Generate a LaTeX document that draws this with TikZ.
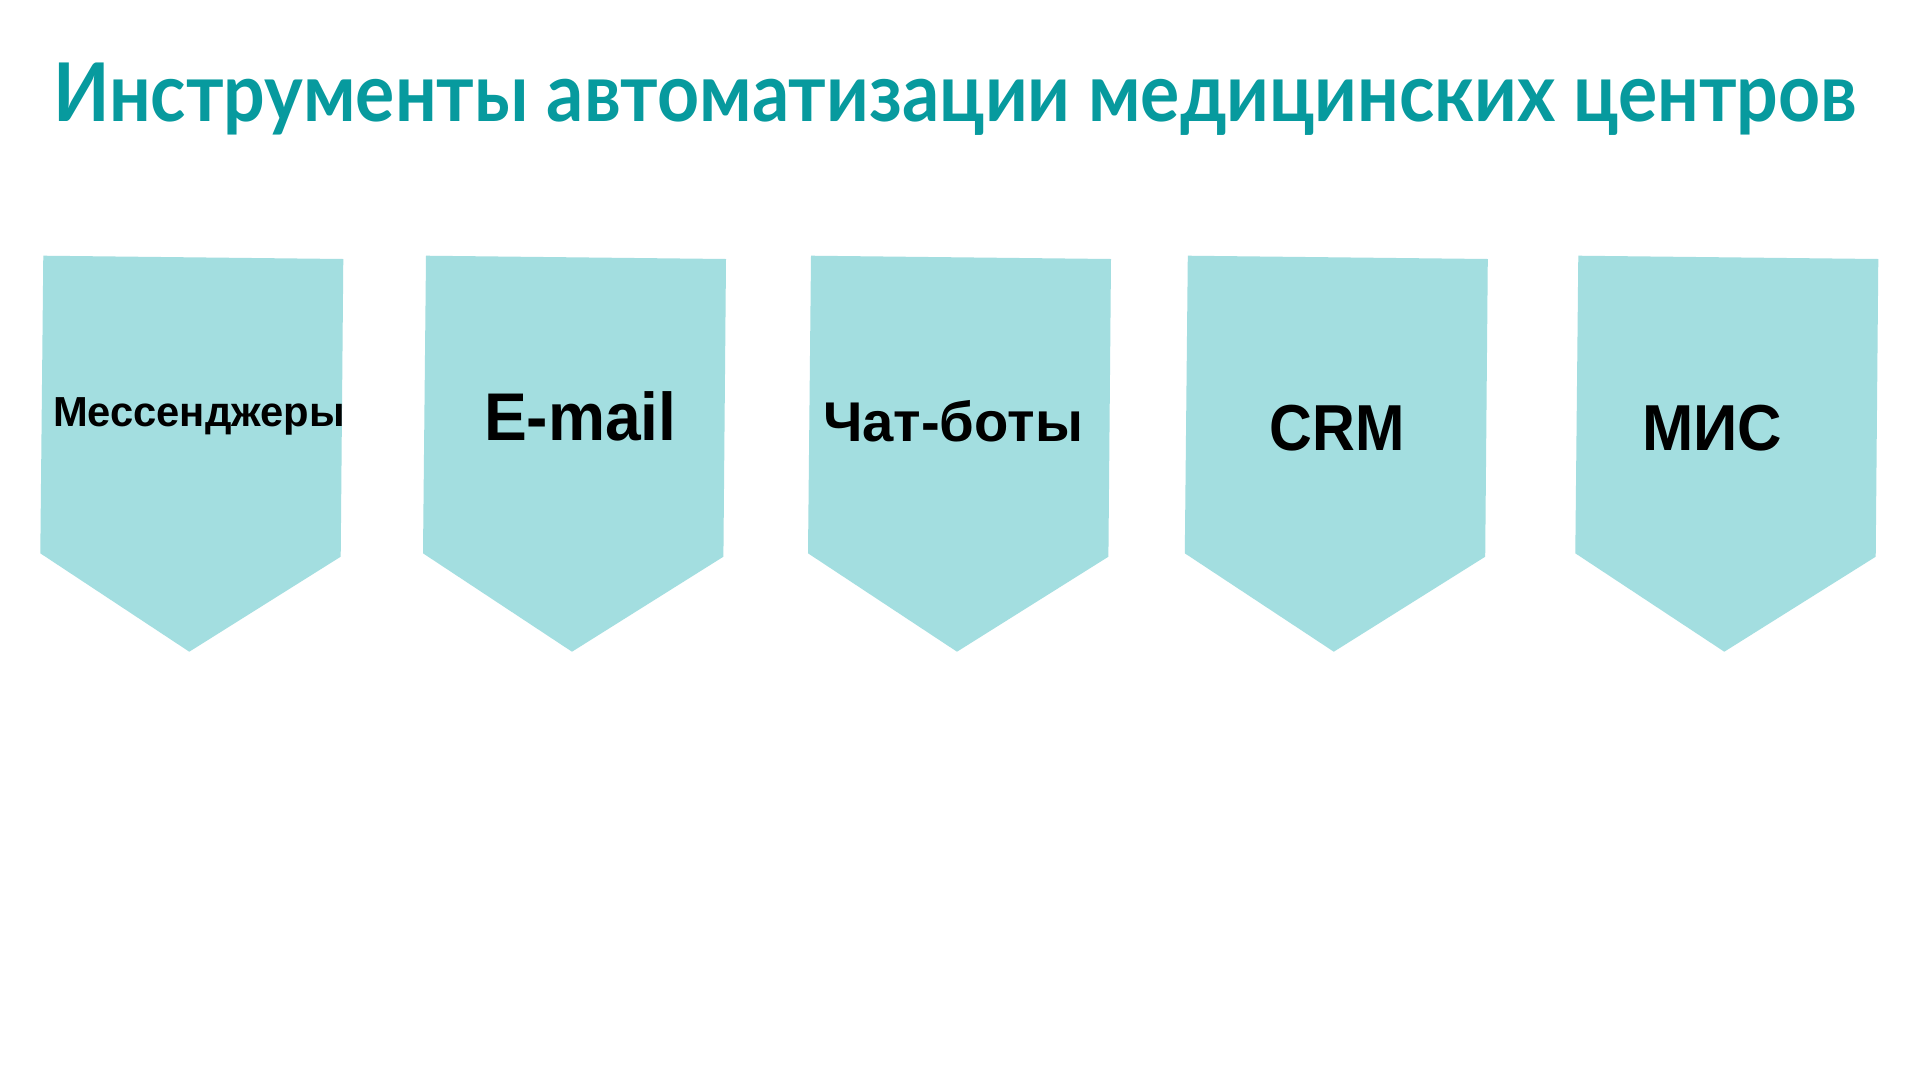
\documentclass[tikz,border=0pt]{standalone}
\usepackage{fontspec}
\setmainfont{Liberation Sans}
\newfontfamily\titlefont{Lato}
\definecolor{titleteal}{HTML}{079A9E}
\definecolor{flagfill}{HTML}{A3DEE0}
\newcommand\flagpath[1]{(#1,255.7) -- ++(300,3.3) -- ++(-2.6,297.7) -- (#1+146,651.7) -- (#1-3,553.3) -- cycle}
\tikzset{
  flagshape/.style={fill=flagfill, draw=none},
  lbl/.style={inner sep=0pt, outer sep=0pt, anchor=base west, text=black, font=\bfseries},
  ttl/.style={inner sep=0pt, outer sep=0pt, anchor=base west, text=titleteal, font=\titlefont\bfseries}
}
\begin{document}
\begin{tikzpicture}[x=1pt,y=-1pt]
\useasboundingbox (0,0) rectangle (1920,1080);
\fill[white] (0,0) rectangle (1920,1080);
\node[ttl] (title) at (53,121) {\resizebox{1804pt}{\height}{\fontsize{81}{90}\selectfont Инструменты автоматизации медицинских центров}};
\fill[flagshape] \flagpath{43.3};
\fill[flagshape] \flagpath{426};
\fill[flagshape] \flagpath{811};
\fill[flagshape] \flagpath{1187.8};
\fill[flagshape] \flagpath{1578.3};
\begin{scope}
\clip \flagpath{43.3};
\node[lbl] (mess) at (53,426.7) {\resizebox{292pt}{\height}{\fontsize{42}{50}\selectfont Мессенджеры}};
\end{scope}
\node[lbl] (email) at (484,440) {\resizebox{192.5pt}{\height}{\fontsize{67.5}{75}\selectfont E-mail}};
\node[lbl] (chat) at (823,441.7) {\resizebox{260pt}{\height}{\fontsize{56}{64}\selectfont Чат-боты}};
\node[lbl] (crm) at (1269.4,450) {\resizebox{135pt}{\height}{\fontsize{65}{72}\selectfont CRM}};
\node[lbl] (mis) at (1642,450) {\resizebox{140pt}{\height}{\fontsize{65}{72}\selectfont МИС}};
\end{tikzpicture}
\end{document}
